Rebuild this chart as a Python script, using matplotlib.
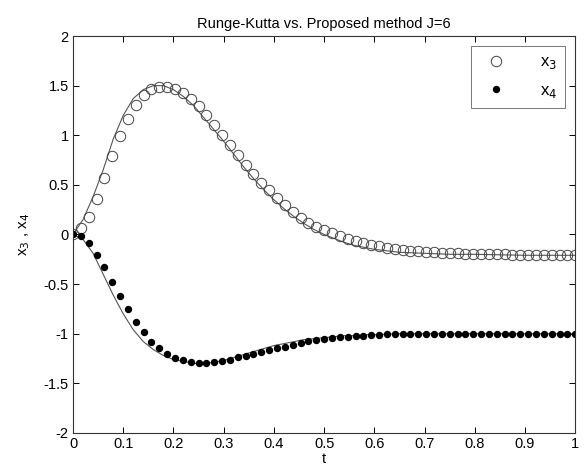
import numpy as np
import matplotlib.pyplot as plt
from matplotlib.ticker import FuncFormatter

plt.rcParams['font.family'] = ['Liberation Sans', 'DejaVu Sans']

# proposed method, J=6 -> 64 subintervals on [0, 1]
t_pm = np.arange(65) / 64
x3_pm = [0.00, 0.07, 0.18, 0.36, 0.57, 0.79, 0.99, 1.16, 1.30, 1.41,
         1.47, 1.49, 1.49, 1.47, 1.43, 1.37, 1.29, 1.20, 1.10, 1.00,
         0.90, 0.80, 0.70, 0.61, 0.52, 0.45, 0.37, 0.30, 0.23, 0.17,
         0.12, 0.08, 0.04, 0.01, -0.02, -0.05, -0.07, -0.09, -0.11, -0.12,
         -0.14, -0.15, -0.16, -0.17, -0.17, -0.18, -0.18, -0.19, -0.19, -0.19,
         -0.20, -0.20, -0.20, -0.20, -0.20, -0.20, -0.21, -0.21, -0.21, -0.21,
         -0.21, -0.21, -0.21, -0.21, -0.21]
x4_pm = [0.00, -0.02, -0.09, -0.21, -0.33, -0.48, -0.62, -0.75, -0.88, -0.98,
         -1.08, -1.14, -1.20, -1.25, -1.27, -1.29, -1.30, -1.30, -1.29, -1.28,
         -1.27, -1.24, -1.22, -1.20, -1.18, -1.16, -1.14, -1.13, -1.11, -1.09,
         -1.07, -1.06, -1.05, -1.04, -1.03, -1.03, -1.02, -1.02, -1.01, -1.01,
         -1.00, -1.00, -1.00, -1.00, -1.00, -1.00, -1.00, -1.00, -1.00, -1.00,
         -1.00, -1.00, -1.00, -1.00, -1.00, -1.00, -1.00, -1.00, -1.00, -1.00,
         -1.00, -1.00, -1.00, -1.00, -1.00]

# Runge-Kutta reference solution
t_rk = [0.00, 0.02, 0.04, 0.06, 0.08, 0.10, 0.12, 0.14, 0.16, 0.18,
        0.20, 0.22, 0.24, 0.26, 0.28, 0.30, 0.32, 0.34, 0.36, 0.38,
        0.40, 0.42, 0.44, 0.46, 0.48, 0.50, 0.52, 0.54, 0.56, 0.58,
        0.60, 0.65, 0.70, 0.75, 0.80, 0.90, 1.00]
x3_rk = [0.00, 0.15, 0.38, 0.65, 0.96, 1.20, 1.37, 1.46, 1.50, 1.50,
         1.46, 1.39, 1.30, 1.18, 1.06, 0.94, 0.81, 0.68, 0.56, 0.45,
         0.35, 0.26, 0.18, 0.11, 0.05, 0.00, -0.04, -0.08, -0.11, -0.13,
         -0.15, -0.18, -0.19, -0.20, -0.20, -0.21, -0.21]
x4_rk = [0.00, -0.05, -0.19, -0.40, -0.61, -0.80, -0.96, -1.08, -1.16, -1.22,
         -1.26, -1.28, -1.30, -1.30, -1.29, -1.27, -1.24, -1.21, -1.18, -1.15,
         -1.12, -1.10, -1.08, -1.06, -1.05, -1.04, -1.03, -1.02, -1.02, -1.01,
         -1.01, -1.00, -1.00, -1.00, -1.00, -1.00, -1.00]

fig = plt.figure(figsize=(5.84, 4.68), dpi=100)
ax = fig.add_axes([0.125, 0.075, 0.860, 0.848])

ax.plot(t_rk, x3_rk, color='#555555', lw=0.8)
ax.plot(t_rk, x4_rk, color='#555555', lw=0.8)
ax.plot(t_pm, x3_pm, 'o', ms=7.5, mfc='none', mec='#444444', mew=0.7, label='x$_3$')
ax.plot(t_pm, x4_pm, 'o', ms=4.3, mfc='black', mec='black', label='x$_4$')

ax.set_xlim(0, 1)
ax.set_ylim(-2, 2)
ax.set_xticks(np.arange(0, 1.01, 0.1))
ax.set_yticks(np.arange(-2, 2.01, 0.5))
ax.xaxis.set_major_formatter(FuncFormatter(lambda v, p: f'{v:g}'))
ax.yaxis.set_major_formatter(FuncFormatter(lambda v, p: f'{v:g}'))
ax.tick_params(direction='in', top=True, right=True, length=4, width=0.7,
               labelsize=10.5, pad=3)
for s in ax.spines.values():
    s.set_linewidth(0.8)
    s.set_color('#333333')

ax.set_title('Runge-Kutta vs. Proposed method J=6', fontsize=10.5, pad=6)
ax.set_xlabel('t', fontsize=10.5, labelpad=1)
ax.set_ylabel('x$_3$ , x$_4$', fontsize=11, labelpad=8)

leg = ax.legend(loc='upper right', fontsize=12, frameon=True, fancybox=False,
                borderaxespad=0.6, handletextpad=1.6, labelspacing=0.7,
                handlelength=2.0, borderpad=0.5)
leg.get_frame().set_edgecolor('#555555')
leg.get_frame().set_linewidth(0.7)

fig.savefig('out.png', dpi=100)
